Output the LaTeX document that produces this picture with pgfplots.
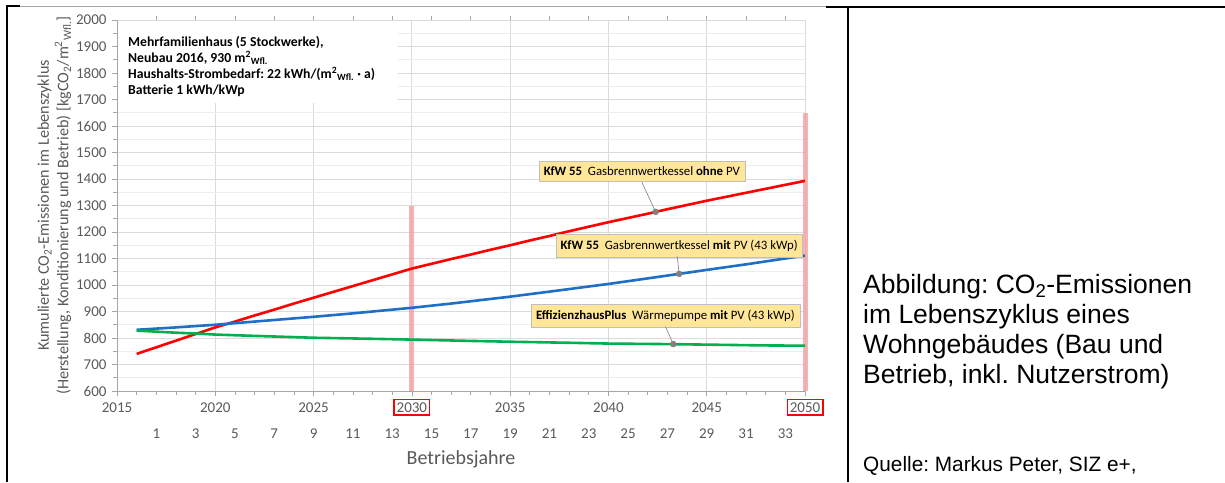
\documentclass[border=0pt]{standalone}
\usepackage{fontspec}
\setmainfont{Carlito}
\newfontfamily\arialfont{Liberation Sans}
\usepackage{pgfplots}
\pgfplotsset{compat=1.18}
\definecolor{pinkbar}{HTML}{F29A9A}
\definecolor{annofill}{HTML}{FFE699}
\definecolor{blueline}{HTML}{1F6FC8}
\definecolor{greenline}{HTML}{00B050}
\definecolor{txtgray}{HTML}{595959}
\definecolor{axgray}{HTML}{A6A6A6}
\frenchspacing
\setlength{\fboxrule}{1.3pt}
\setlength{\fboxsep}{2pt}
\newcommand{\redbox}[1]{\fcolorbox{red}{white}{#1}}
\begin{document}
\begin{tikzpicture}[x=1pt,y=1pt]
\path[use as bounding box] (0,0) rectangle (1225,-482);
% frame lines
\draw[black, line width=2pt] (7,-482) -- (7,-6) -- (20,-6);
\draw[gray!70, line width=0.8pt] (20,-6) -- (826,-6);
\draw[black, line width=2pt] (826,-6.5) -- (1225,-6.5);
\draw[black, line width=2pt] (848,-6.5) -- (848,-482);
\begin{axis}[
  at={(117pt,-391pt)}, anchor=south west,
  scale only axis, width=688pt, height=371pt,
  xmin=2015, xmax=2050, ymin=600, ymax=2000,
  axis x line*=bottom, axis y line*=left,
  x axis line style={-}, y axis line style={-},
  axis line style={axgray, line width=0.9pt},
  xtick={2015,2020,...,2050},
  xticklabels={2015,2020,2025,{\redbox{2030}},2035,2040,2045,{\redbox{2050}}},
  minor x tick num=4,
  ytick={600,700,...,2000},
  minor y tick num=1,
  tick align=outside,
  major tick length=5pt, minor tick length=4pt,
  tick style={axgray, line width=0.7pt},
  ymajorgrids, yminorgrids, xmajorgrids,
  major grid style={gray!28, line width=0.8pt},
  minor grid style={gray!14, line width=0.6pt},
  /pgf/number format/assume math mode=true,
  /pgf/number format/1000 sep={},
  tick label style={font=\fontsize{15}{16}\selectfont, text=txtgray},
  yticklabel style={xshift=-2pt},
  xticklabel style={text height=10pt, text depth=2pt, inner sep=1pt, yshift=-5pt},
  extra x ticks={2017,2019,2021,2023,2025,2027,2029,2031,2033,2035,2037,2039,2041,2043,2045,2047,2049},
  extra x tick labels={1,3,5,7,9,11,13,15,17,19,21,23,25,27,29,31,33},
  extra x tick style={major tick length=0pt, grid=none, tick label style={yshift=-31pt}},
  xlabel={Betriebsjahre},
  xlabel style={font=\fontsize{20}{22}\selectfont, text=txtgray, at={(axis description cs:0.5,0)}, anchor=center, yshift=-68pt},
  ylabel={Kumulierte CO\textsubscript{2}-Emissionen im Lebenszyklus\\(Herstellung, Konditionierung und Betrieb) [kgCO\textsubscript{2}/m\textsuperscript{2}\textsubscript{Wfl.}]},
  ylabel style={font=\fontsize{16.2}{19.5}\selectfont, text=txtgray, align=center, at={(axis description cs:0,0.5)}, anchor=center, yshift=62.5pt},
  clip=false,
]
% pink marker bars
\addplot[draw=pinkbar, opacity=0.75, line width=5pt, forget plot] coordinates {(2030,600) (2030,1300)};
\addplot[draw=pinkbar, opacity=0.75, line width=5pt, forget plot] coordinates {(2050,600) (2050,1650)};
% info box background
\fill[white] (axis cs:2015.05,1686) rectangle (axis cs:2029.3,1998);
% data
\addplot[red, line width=2.6pt, line join=round] coordinates {
(2016,740) (2017,765) (2018,790) (2019,815) (2020,840) (2021,862) (2022,885) (2023,907) (2024,930) (2025,952)
(2026,974) (2027,996) (2028,1018) (2029,1040) (2030,1062) (2031,1080) (2032,1098) (2033,1115) (2034,1133) (2035,1150)
(2036,1168) (2037,1185) (2038,1203) (2039,1220) (2040,1237) (2041,1253) (2042,1269) (2043,1286) (2044,1302) (2045,1318)
(2046,1333) (2047,1348) (2048,1363) (2049,1378) (2050,1393)};
\addplot[blueline, line width=2.6pt, line join=round] coordinates {
(2016,831) (2018,840) (2020,850) (2022,862) (2024,874) (2025,880) (2027,893) (2030,914) (2032,930) (2035,956)
(2037,975) (2040,1004) (2042,1025) (2045,1057) (2047,1078) (2050,1111)};
\addplot[greenline, line width=2.6pt, line join=round] coordinates {
(2016,828) (2017,824) (2018,820) (2019,817) (2020,813) (2022,808) (2025,801) (2028,797) (2030,794) (2033,789)
(2035,786) (2038,782) (2040,779) (2043,777) (2045,775) (2048,772) (2050,771)};
% annotation boxes
\node[fill=annofill, draw=gray!50, inner xsep=5pt, inner ysep=5.5pt, font=\fontsize{12.8}{14}\selectfont] (b1) at (axis cs:2041.7,1429) {\textbf{KfW 55}\ \ Gasbrennwertkessel \textbf{ohne} PV};
\node[fill=annofill, draw=gray!50, inner xsep=5pt, inner ysep=5.5pt, font=\fontsize{12.8}{14}\selectfont] (b2) at (axis cs:2043.6,1149) {\textbf{KfW 55}\ \ Gasbrennwertkessel \textbf{mit} PV (43 kWp)};
\node[fill=annofill, draw=gray!50, inner xsep=5pt, inner ysep=5.5pt, font=\fontsize{12.8}{14}\selectfont] (b3) at (axis cs:2042.9,884) {\textbf{EffizienzhausPlus}\ \ Wärmepumpe \textbf{mit} PV (43 kWp)};
\draw[gray, line width=0.6pt] (axis cs:2041.7,1388) -- (axis cs:2042.4,1276);
\draw[gray, line width=0.6pt] (axis cs:2043.5,1108) -- (axis cs:2043.6,1042);
\draw[gray, line width=0.6pt] (axis cs:2042.9,843) -- (axis cs:2043.3,777);
\addplot[only marks, mark=*, mark size=3pt, color=gray, forget plot] coordinates {(2042.4,1276) (2043.6,1042) (2043.3,777)};
\end{axis}
% top secondary axis ticks
\begin{axis}[
  at={(117pt,-391pt)}, anchor=south west,
  scale only axis, width=688pt, height=371pt,
  xmin=2015, xmax=2050, ymin=600, ymax=2000,
  axis x line*=top, hide y axis,
  x axis line style={draw=none},
  xtick={2017,2019,...,2049}, xticklabels={},
  tick align=outside, major tick length=4pt,
  tick style={axgray, line width=0.7pt},
]
\addplot[draw=none] coordinates {(2016,800)};
\end{axis}
% info text
\node[anchor=north west, align=left, font=\bfseries\fontsize{13.7}{16}\selectfont, inner sep=0pt] at (128,-36) {Mehrfamilienhaus (5 Stockwerke),\\Neubau 2016, 930 m\textsuperscript{2}\textsubscript{Wfl.}\\Haushalts-Strombedarf: 22 kWh/(m\textsuperscript{2}\textsubscript{Wfl.} · a)\\Batterie 1 kWh/kWp};
% caption
\node[anchor=base west, inner sep=0pt, font=\arialfont\fontsize{26.5}{30}\selectfont] at (863,-293) {Abbildung: CO\textsubscript{2}-Emissionen};
\node[anchor=base west, inner sep=0pt, font=\arialfont\fontsize{26.5}{30}\selectfont] at (863,-323) {im Lebenszyklus eines};
\node[anchor=base west, inner sep=0pt, font=\arialfont\fontsize{26.5}{30}\selectfont] at (863,-353) {Wohngebäudes (Bau und};
\node[anchor=base west, inner sep=0pt, font=\arialfont\fontsize{26.5}{30}\selectfont] at (863,-383) {Betrieb, inkl. Nutzerstrom)};
\node[anchor=base west, inner sep=0pt, font=\arialfont\fontsize{20.8}{24}\selectfont] at (863,-471) {Quelle: Markus Peter, SIZ e+,};
\end{tikzpicture}
\end{document}
